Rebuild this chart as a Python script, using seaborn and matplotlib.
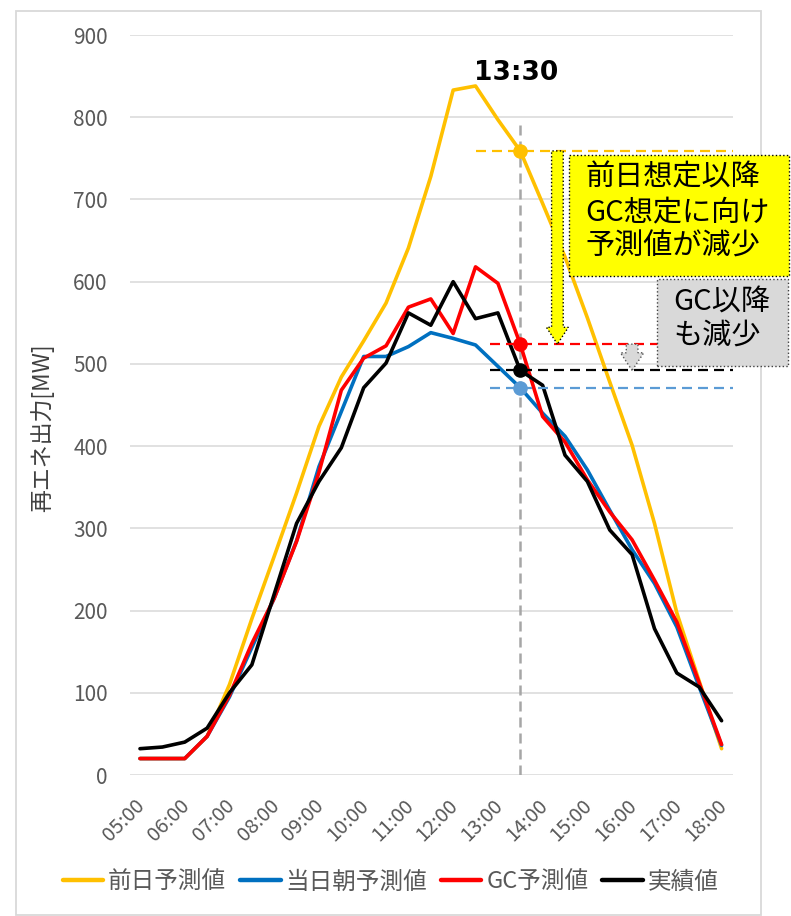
import numpy as np
import pandas as pd
import matplotlib
matplotlib.use("Agg")
import matplotlib.pyplot as plt
import matplotlib.transforms as mtransforms
from matplotlib.patches import Rectangle, FancyArrow
from matplotlib.lines import Line2D
import seaborn as sns

# ---------------- data ----------------
times = ["05:00", "05:30", "06:00", "06:30", "07:00", "07:30", "08:00", "08:30",
         "09:00", "09:30", "10:00", "10:30", "11:00", "11:30", "12:00", "12:30",
         "13:00", "13:30", "14:00", "14:30", "15:00", "15:30", "16:00", "16:30",
         "17:00", "17:30", "18:00"]
hour_labels = ["05:00", "06:00", "07:00", "08:00", "09:00", "10:00", "11:00",
               "12:00", "13:00", "14:00", "15:00", "16:00", "17:00", "18:00"]
series_names = ["前日予測値", "当日朝予測値", "GC予測値", "実績値"]

prev_day = [20, 20, 20, 47, 110, 190, 266, 343, 424, 484, 528, 574, 641, 728, 833,
            838, 797, 759, 695, 630, 556, 478, 401, 306, 197, 114, 32]
morning = [20, 20, 20, 47, 95, 155, 215, 285, 375, 442, 509, 509, 521, 538, 531,
           523, 497, 471, 440, 412, 371, 322, 274, 233, 180, 107, 36]
gc = [20, 20, 20, 47, 97, 160, 215, 284, 368, 468, 507, 522, 569, 579, 537,
      618, 598, 524, 436, 405, 359, 320, 286, 237, 186, 112, 37]
actual = [32, 34, 40, 57, 100, 134, 220, 306, 357, 398, 471, 501, 562, 547, 600,
          555, 562, 492, 474, 389, 357, 298, 268, 178, 124, 107, 66]

focus_time = "13:30"
text_yellow = "前日想定以降\nGC想定に向け\n予測値が減少"
text_gray = "GC以降\nも減少"
ylabel = "再エネ出力[MW]"

# ---------------- style ----------------
colors = ["#FFC000", "#0070C0", "#FF0000", "#000000"]
dot_colors = ["#FFC000", "#5B9BD5", "#FF0000", "#000000"]
sns.set_theme(style="white")
plt.rcParams["font.family"] = ["Noto Sans CJK JP", "DejaVu Sans"]

n = len(times)
idx = np.arange(n)
df = pd.DataFrame({
    "idx": np.tile(idx, 4),
    "系列": np.repeat(series_names, n),
    "値": prev_day + morning + gc + actual,
})

W, H = 791, 916
fig = plt.figure(figsize=(W / 100, H / 100), dpi=100)
ax = fig.add_axes([130 / W, 1 - 775 / H, 603 / W, 740 / H])

sns.lineplot(data=df, x="idx", y="値", hue="系列", hue_order=series_names,
             palette=dict(zip(series_names, colors)), linewidth=2.6,
             estimator=None, legend=False, ax=ax, zorder=3)

ax.set_xlim(-0.447, 26.51)
ax.set_ylim(0, 900)
ax.set_yticks(range(0, 901, 100))
ax.grid(axis="y", color="#D9D9D9", lw=1.1)
ax.grid(axis="x", visible=False)
ax.set_axisbelow(True)
for s in ax.spines.values():
    s.set_visible(False)

# x ticks at full hours
hour_pos = [times.index(h) for h in hour_labels]
ax.set_xticks(hour_pos)
ax.set_xticklabels(hour_labels)
ax.tick_params(axis="x", length=0, pad=20, labelsize=14.5, labelcolor="#595959")
ax.tick_params(axis="y", length=0, pad=16, labelsize=15, labelcolor="#595959")
offset = mtransforms.ScaledTranslation(2 / 100, 0, fig.dpi_scale_trans)
for lbl in ax.get_xticklabels():
    lbl.set_rotation(45)
    lbl.set_ha("right")
    lbl.set_va("center")
    lbl.set_rotation_mode("anchor")
    lbl.set_transform(lbl.get_transform() + offset)

ax.set_xlabel("")
ax.set_ylabel(ylabel, fontsize=16.5, color="#404040")
ax.yaxis.set_label_coords(-0.126, 0.469)

# ---------------- annotations ----------------
fi = times.index(focus_time)
vals = [prev_day[fi], morning[fi], gc[fi], actual[fi]]

ax.plot([fi, fi], [0, 797], color="#A6A6A6", lw=1.8, dashes=(4, 2.4), zorder=2)
ax.text(fi - 0.2, 854, focus_time, fontsize=19, fontweight="bold",
        family="DejaVu Sans", ha="center", va="center", color="black")

starts = [15.0, 15.65, 15.65, 15.65]
for v, c, s in zip(vals, dot_colors, starts):
    ax.plot([s, 26.51], [v, v], color=c, lw=1.6, dashes=(4.5, 2.7), zorder=4)
for v, c in zip(vals, dot_colors):
    ax.plot([fi], [v], marker="o", ms=9.5, color=c, mec=c, zorder=6)

# yellow block arrow: prev_day -> gc
ax.add_patch(FancyArrow(18.66, prev_day[fi], 0, gc[fi] - prev_day[fi], width=0.52,
                        head_width=0.98, head_length=20.5, length_includes_head=True,
                        fc="#FFFF00", ec="black", ls=":", lw=1.0, zorder=7))
# gray block arrow: gc -> actual
ax.add_patch(FancyArrow(22.0, gc[fi], 0, actual[fi] - gc[fi], width=0.52,
                        head_width=1.04, head_length=21.5, length_includes_head=True,
                        fc="#D9D9D9", ec="#595959", ls=":", lw=1.0, zorder=7))

# text boxes (figure pixel coords)
def px_rect(x0, y0, x1, y1, **kw):
    return Rectangle((x0 / W, 1 - y1 / H), (x1 - x0) / W, (y1 - y0) / H,
                     transform=fig.transFigure, **kw)

fig.add_artist(px_rect(569, 155, 789, 276, fc="#FFFF00", ec="black", ls=":", lw=1.0, zorder=5))
fig.text(585 / W, 1 - 212 / H, text_yellow, fontsize=21, ha="left", va="center",
         linespacing=1.2, color="black", zorder=6)
fig.add_artist(px_rect(657, 279, 788, 366, fc="#D9D9D9", ec="#404040", ls=":", lw=1.0, zorder=5))
fig.text(673 / W, 1 - 318.5 / H, text_gray, fontsize=21, ha="left", va="center",
         linespacing=1.15, color="black", zorder=6)

# outer chart border
fig.add_artist(px_rect(16, 11, 761, 915, fill=False, ec="#D9D9D9", lw=1.3, zorder=0))

# legend
handles = [Line2D([], [], color=c, lw=3.2) for c in colors]
leg = fig.legend(handles, series_names, loc="center", bbox_to_anchor=(0.494, 1 - 882 / H),
                 ncol=4, frameon=False, fontsize=17, handlelength=1.7,
                 handletextpad=0.2, columnspacing=0.6)
for t in leg.get_texts():
    t.set_color("#595959")

fig.savefig("out.png", dpi=100)
